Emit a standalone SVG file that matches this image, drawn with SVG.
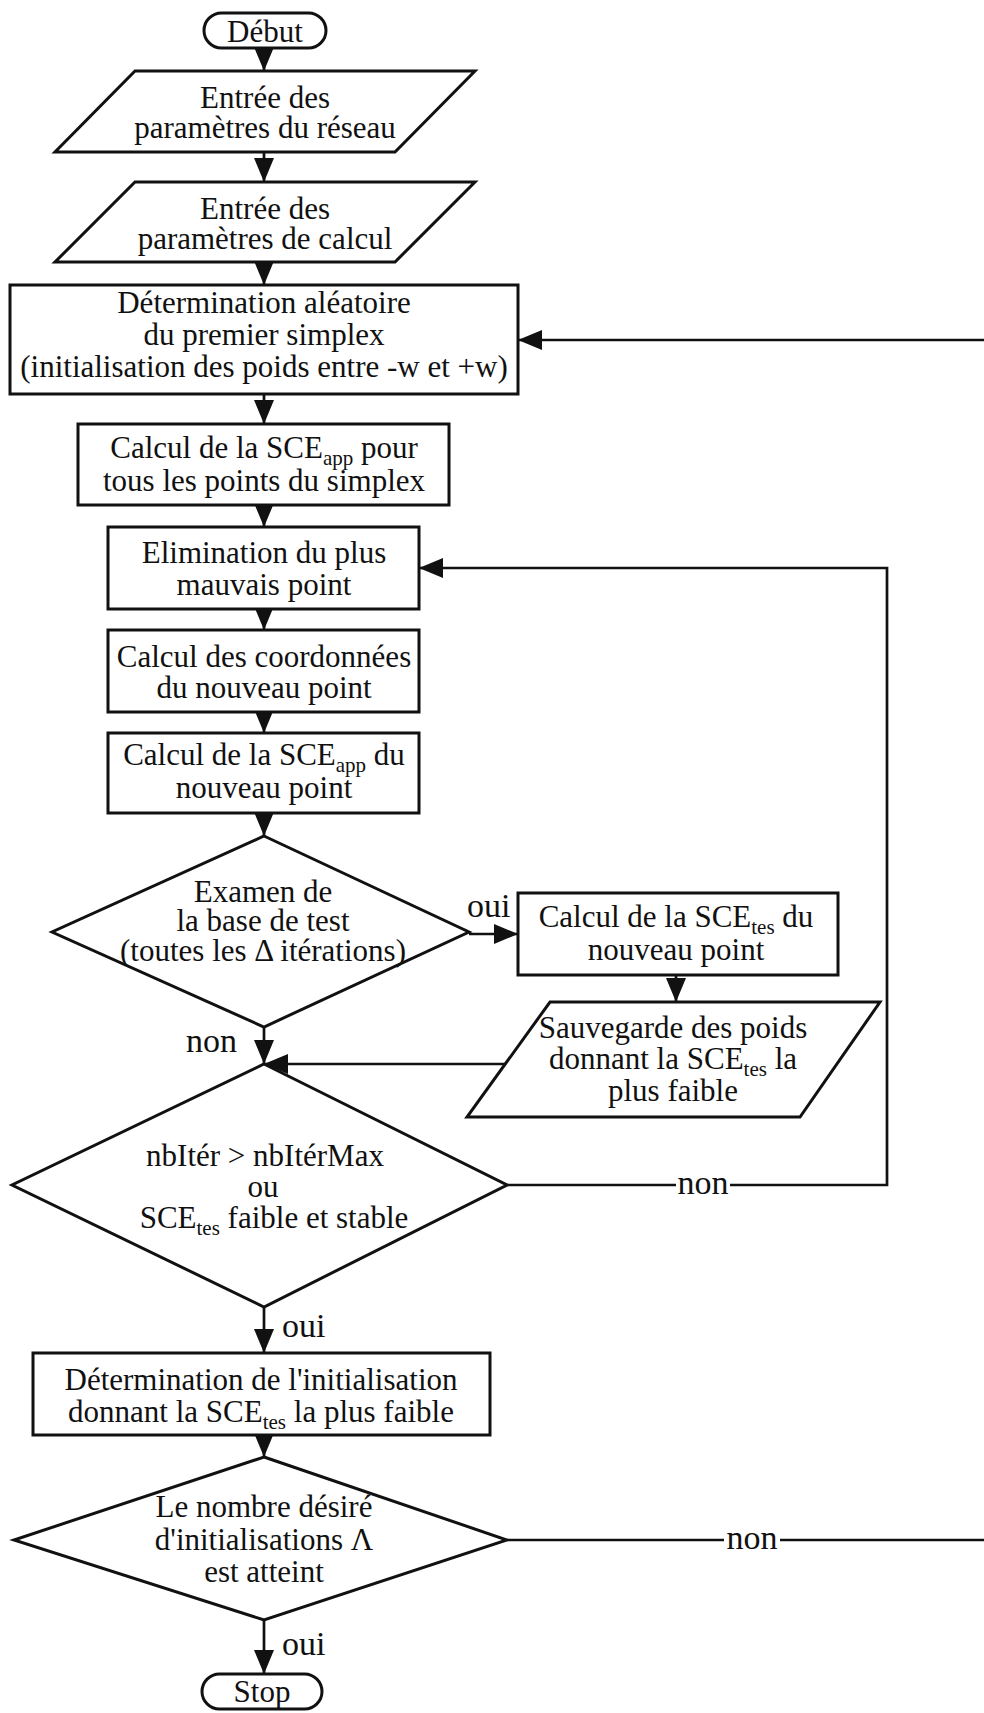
<svg xmlns="http://www.w3.org/2000/svg" width="984" height="1713" viewBox="0 0 984 1713">
<defs>
<style>
.s{fill:#fff;stroke:#111;stroke-width:3;stroke-linejoin:miter}
.t{font-family:"Liberation Serif","Times New Roman",serif;font-size:31px;fill:#111;text-anchor:middle}
.l{font-family:"Liberation Serif","Times New Roman",serif;font-size:34px;fill:#111}
.sub{font-size:21px}
.c{fill:none;stroke:#111;stroke-width:2.7}
</style>
<marker id="ah" viewBox="0 0 24 20" refX="24" refY="10" markerWidth="24" markerHeight="20" markerUnits="userSpaceOnUse" orient="auto">
<path d="M0,0 L24,10 L0,20 z" fill="#111"/>
</marker>
</defs>
<rect width="984" height="1713" fill="#fff"/>

<g id="connectors">
<line class="c" x1="264" y1="48" x2="264" y2="71" marker-end="url(#ah)"/>
<line class="c" x1="264" y1="152" x2="264" y2="182" marker-end="url(#ah)"/>
<line class="c" x1="264" y1="262" x2="264" y2="285" marker-end="url(#ah)"/>
<line class="c" x1="264" y1="394" x2="264" y2="424" marker-end="url(#ah)"/>
<line class="c" x1="264" y1="505" x2="264" y2="527" marker-end="url(#ah)"/>
<line class="c" x1="264" y1="609" x2="264" y2="630" marker-end="url(#ah)"/>
<line class="c" x1="264" y1="712" x2="264" y2="733" marker-end="url(#ah)"/>
<line class="c" x1="264" y1="813" x2="264" y2="836" marker-end="url(#ah)"/>
<line class="c" x1="469" y1="934" x2="518" y2="934" marker-end="url(#ah)"/>
<text class="l" x="467" y="917">oui</text>
<line class="c" x1="676" y1="975" x2="676" y2="1002" marker-end="url(#ah)"/>
<line class="c" x1="264" y1="1027" x2="264" y2="1064" marker-end="url(#ah)"/>
<text class="l" x="186" y="1052">non</text>
<line class="c" x1="505" y1="1064" x2="264" y2="1064" marker-end="url(#ah)"/>
<path class="c" d="M507,1185 H887 V568 H419" marker-end="url(#ah)"/>
<rect x="676" y="1170" width="54" height="30" fill="#fff"/>
<text class="l" x="703" y="1194" text-anchor="middle">non</text>
<line class="c" x1="264" y1="1307" x2="264" y2="1353" marker-end="url(#ah)"/>
<text class="l" x="282" y="1337">oui</text>
<line class="c" x1="264" y1="1435" x2="264" y2="1457" marker-end="url(#ah)"/>
<path class="c" d="M507,1540 H990 V340 H518" marker-end="url(#ah)"/>
<rect x="724" y="1525" width="56" height="30" fill="#fff"/>
<text class="l" x="752" y="1549" text-anchor="middle">non</text>
<line class="c" x1="264" y1="1620" x2="264" y2="1674" marker-end="url(#ah)"/>
<text class="l" x="282" y="1655">oui</text>
</g>

<g id="debut">
<rect class="s" x="204" y="13" width="122" height="35" rx="17.5"/>
<text class="t" x="265" y="42">Début</text>
</g>

<g id="entree-reseau">
<polygon class="s" points="135,71 475,71 395,152 55,152"/>
<text class="t" x="265" y="108">Entrée des</text>
<text class="t" x="265" y="138">paramètres du réseau</text>
</g>

<g id="entree-calcul">
<polygon class="s" points="135,182 475,182 395,262 55,262"/>
<text class="t" x="265" y="219">Entrée des</text>
<text class="t" x="265" y="249">paramètres de calcul</text>
</g>

<g id="determination-simplex">
<rect class="s" x="10" y="285" width="508" height="109"/>
<text class="t" x="264" y="313">Détermination aléatoire</text>
<text class="t" x="264" y="345">du premier simplex</text>
<text class="t" x="264" y="377">(initialisation des poids entre -w et +w)</text>
</g>

<g id="calcul-sce-app-simplex">
<rect class="s" x="78" y="424" width="371" height="81"/>
<text class="t" x="264" y="458">Calcul de la SCE<tspan class="sub" dy="7">app</tspan><tspan dy="-7"> pour</tspan></text>
<text class="t" x="264" y="491">tous les points du simplex</text>
</g>

<g id="elimination">
<rect class="s" x="108" y="527" width="311" height="82"/>
<text class="t" x="264" y="563">Elimination du plus</text>
<text class="t" x="264" y="595">mauvais point</text>
</g>

<g id="coordonnees">
<rect class="s" x="108" y="630" width="311" height="82"/>
<text class="t" x="264" y="667">Calcul des coordonnées</text>
<text class="t" x="264" y="698">du nouveau point</text>
</g>

<g id="calcul-sce-app-point">
<rect class="s" x="108" y="733" width="311" height="80"/>
<text class="t" x="264" y="765">Calcul de la SCE<tspan class="sub" dy="7">app</tspan><tspan dy="-7"> du</tspan></text>
<text class="t" x="264" y="798">nouveau point</text>
</g>

<g id="examen-test">
<polygon class="s" points="264,836 469,932 264,1027 52,932"/>
<text class="t" x="263" y="902">Examen de</text>
<text class="t" x="263" y="931">la base de test</text>
<text class="t" x="263" y="961">(toutes les Δ itérations)</text>
</g>

<g id="calcul-sce-tes">
<rect class="s" x="518" y="893" width="320" height="82"/>
<text class="t" x="676" y="927">Calcul de la SCE<tspan class="sub" dy="7">tes</tspan><tspan dy="-7"> du</tspan></text>
<text class="t" x="676" y="960">nouveau point</text>
</g>

<g id="sauvegarde">
<polygon class="s" points="550,1002 880,1002 800,1117 467,1117"/>
<text class="t" x="673" y="1038">Sauvegarde des poids</text>
<text class="t" x="673" y="1069">donnant la SCE<tspan class="sub" dy="7">tes</tspan><tspan dy="-7"> la</tspan></text>
<text class="t" x="673" y="1101">plus faible</text>
</g>

<g id="test-arret">
<polygon class="s" points="264,1064 507,1185 264,1307 12,1185"/>
<text class="t" x="265" y="1166">nbItér &gt; nbItérMax</text>
<text class="t" x="263" y="1197">ou</text>
<text class="t" x="274" y="1228">SCE<tspan class="sub" dy="7">tes</tspan><tspan dy="-7"> faible et stable</tspan></text>
</g>

<g id="determination-init">
<rect class="s" x="33" y="1353" width="457" height="82"/>
<text class="t" x="261" y="1390">Détermination de l'initialisation</text>
<text class="t" x="261" y="1422">donnant la SCE<tspan class="sub" dy="7">tes</tspan><tspan dy="-7"> la plus faible</tspan></text>
</g>

<g id="nombre-init">
<polygon class="s" points="264,1457 507,1540 264,1620 14,1540"/>
<text class="t" x="264" y="1517">Le nombre désiré</text>
<text class="t" x="264" y="1550">d'initialisations Λ</text>
<text class="t" x="264" y="1582">est atteint</text>
</g>

<g id="stop">
<rect class="s" x="202" y="1674" width="120" height="35" rx="17.5"/>
<text class="t" x="262" y="1702">Stop</text>
</g>
</svg>
